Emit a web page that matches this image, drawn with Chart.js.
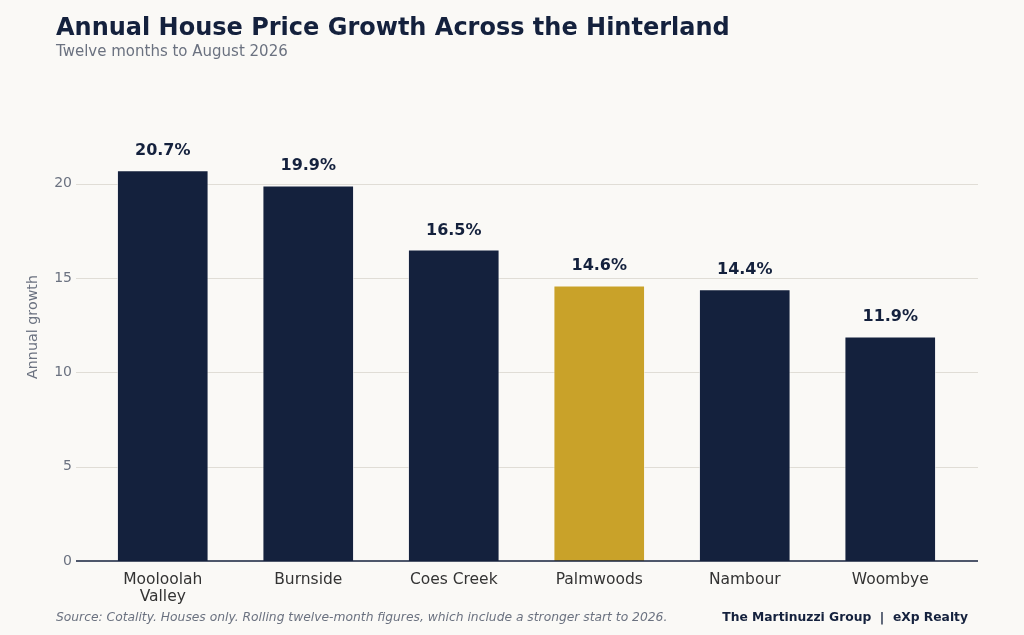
<!DOCTYPE html>
<html>
<head>
<meta charset="utf-8">
<style>
  html, body { margin: 0; padding: 0; background: #faf9f6; }
  #wrap { width: 1024px; height: 635px; position: relative; }
</style>
<script src="https://cdn.jsdelivr.net/npm/chart.js@4/dist/chart.umd.min.js"></script>
</head>
<body>
<div id="wrap"><canvas id="growthChart" width="1024" height="635"></canvas></div>
<script>
const suburbs = [["Mooloolah", "Valley"], "Burnside", "Coes Creek", "Palmwoods", "Nambour", "Woombye"];
const growth = [20.7, 19.9, 16.5, 14.6, 14.4, 11.9];
const highlight = "Palmwoods";
const yTicks = [0, 5, 10, 15, 20];

const NAVY = "#14213d";
const GOLD = "#c9a229";
const FONT = "'DejaVu Sans', sans-serif";

const barColors = suburbs.map((s) => (s === highlight ? GOLD : NAVY));

// gridlines + baseline, a bit wider than the bars' area like the original
const gridPlugin = {
  id: "gridPlugin",
  beforeDatasetsDraw(chart) {
    const { ctx, chartArea, scales } = chart;
    const left = chartArea.left - 14;
    const right = chartArea.right + 15;
    ctx.save();
    ctx.strokeStyle = "#e0ddd6";
    ctx.lineWidth = 1;
    yTicks.forEach((t) => {
      if (t === 0) return;
      const y = Math.round(scales.y.getPixelForValue(t)) + 0.5;
      ctx.beginPath();
      ctx.moveTo(left, y);
      ctx.lineTo(right, y);
      ctx.stroke();
    });
    ctx.restore();
  },
  afterDatasetsDraw(chart) {
    const { ctx, chartArea, scales } = chart;
    const y = scales.y.getPixelForValue(0);
    ctx.save();
    ctx.strokeStyle = NAVY;
    ctx.lineWidth = 1.6;
    ctx.beginPath();
    ctx.moveTo(chartArea.left - 14, y);
    ctx.lineTo(chartArea.right + 15, y);
    ctx.stroke();

    // value labels
    ctx.fillStyle = NAVY;
    ctx.font = "bold 16px " + FONT;
    ctx.textAlign = "center";
    ctx.textBaseline = "alphabetic";
    chart.getDatasetMeta(0).data.forEach((bar, i) => {
      ctx.fillText(growth[i].toFixed(1) + "%", bar.x, bar.y - 15);
    });
    ctx.restore();
  },
  afterDraw(chart) {
    const { ctx, chartArea } = chart;
    ctx.save();
    ctx.textAlign = "left";
    ctx.textBaseline = "alphabetic";
    ctx.fillStyle = NAVY;
    ctx.font = "bold 24px " + FONT;
    ctx.fillText("Annual House Price Growth Across the Hinterland", 56, 35);
    ctx.fillStyle = "#6b7280";
    ctx.font = "15px " + FONT;
    ctx.fillText("Twelve months to August 2026", 56, 56);

    ctx.font = "italic 12.3px " + FONT;
    ctx.fillStyle = "#6b7280";
    ctx.fillText("Source: Cotality. Houses only. Rolling twelve-month figures, which include a stronger start to 2026.", 56, 621);
    ctx.textAlign = "right";
    ctx.fillStyle = NAVY;
    ctx.font = "bold 12.3px " + FONT;
    ctx.fillText("The Martinuzzi Group  |  eXp Realty", 968, 621);

    // y axis title
    ctx.translate(33, 327);
    ctx.rotate(-Math.PI / 2);
    ctx.textAlign = "center";
    ctx.textBaseline = "middle";
    ctx.fillStyle = "#6b7280";
    ctx.font = "14.3px " + FONT;
    ctx.fillText("Annual growth", 0, 0);
    ctx.restore();
  },
};

new Chart(document.getElementById("growthChart"), {
  type: "bar",
  data: {
    labels: suburbs,
    datasets: [
      {
        data: growth,
        backgroundColor: barColors,
        borderColor: "rgba(255,255,255,0.55)",
        borderWidth: 1,
        barPercentage: 0.63,
        categoryPercentage: 1,
      },
    ],
  },
  options: {
    responsive: false,
    animation: false,
    layout: { padding: { left: 0, right: 61, top: 108, bottom: 0 } },
    plugins: { legend: { display: false }, tooltip: { enabled: false } },
    scales: {
      x: {
        offset: true,
        grid: { display: false, drawTicks: false },
        border: { display: false },
        ticks: {
          color: "#333333",
          font: { family: FONT, size: 15.5, lineHeight: 1.1 },
          padding: 10,
          maxRotation: 0,
          autoSkip: false,
        },
        afterFit(scale) { scale.height = 74; },
      },
      y: {
        min: 0,
        max: 24,
        afterBuildTicks(scale) { scale.ticks = yTicks.map((v) => ({ value: v })); },
        grid: { display: false, drawTicks: false },
        border: { display: false },
        ticks: {
          color: "#6b7280",
          font: { family: FONT, size: 14 },
          padding: 18,
        },
        afterFit(scale) { scale.width = 90; },
      },
    },
  },
  plugins: [gridPlugin],
});
</script>
</body>
</html>
